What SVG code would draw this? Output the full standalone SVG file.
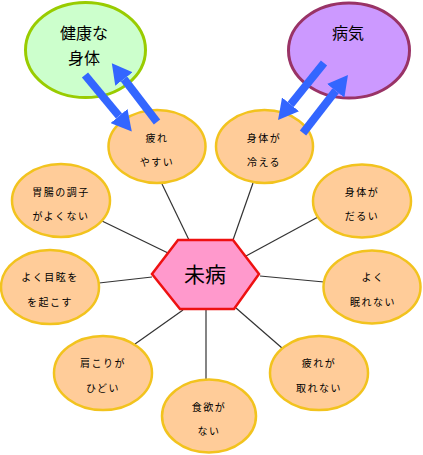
<svg xmlns="http://www.w3.org/2000/svg" width="423" height="455" viewBox="0 0 423 455">
<style>
.o{fill:#FFCC99;stroke:#F2C31E;stroke-width:2.5}
.s{font-family:"Noto Sans CJK JP","Noto Sans",sans-serif;font-size:10px;letter-spacing:1.5px;fill:#000;text-anchor:middle}
.b{font-family:"Noto Sans CJK JP","Noto Sans",sans-serif;font-size:16px;fill:#000;text-anchor:middle}
.c line{stroke:#333;stroke-width:1.2}
.a path{stroke:#3366FF;stroke-width:8;fill:none;marker-end:url(#ah)}
</style>
<defs>
<marker id="ah" markerUnits="userSpaceOnUse" markerWidth="20" markerHeight="22" viewBox="0 0 20 22" refX="0" refY="11" orient="auto">
<path d="M0,0 L20,11 L0,22 z" fill="#3366FF"/>
</marker>
</defs>
<g class="c">
<line x1="162" y1="184" x2="189" y2="240"/>
<line x1="253" y1="183" x2="233" y2="240"/>
<line x1="102" y1="221" x2="168" y2="253"/>
<line x1="99" y1="283" x2="152" y2="277"/>
<line x1="318" y1="217" x2="246" y2="256"/>
<line x1="260" y1="276" x2="324" y2="282"/>
<line x1="135" y1="344" x2="183" y2="310"/>
<line x1="206" y1="309" x2="206" y2="380"/>
<line x1="236" y1="308" x2="282" y2="348"/>
</g>
<g id="kenko">
<ellipse cx="85.5" cy="50" rx="60" ry="47.5" fill="#CCFFCC" stroke="#99CC00" stroke-width="3"/>
<text class="b" x="84" y="39">健康な</text>
<text class="b" x="84" y="64">身体</text>
</g>
<g id="byoki">
<ellipse cx="349" cy="50.5" rx="60.5" ry="47.5" fill="#CC99FF" stroke="#993366" stroke-width="3"/>
<text class="b" x="348" y="39">病気</text>
</g>
<g id="hiro">
<ellipse class="o" cx="157" cy="146.5" rx="48.5" ry="36.5"/>
<text class="s" x="157" y="142">疲れ</text>
<text class="s" x="157" y="166">やすい</text>
</g>
<g id="hie">
<ellipse class="o" cx="264.5" cy="146.5" rx="48.5" ry="36.5"/>
<text class="s" x="264" y="142">身体が</text>
<text class="s" x="264" y="166">冷える</text>
</g>
<g id="ichou">
<ellipse class="o" cx="61" cy="200.5" rx="49" ry="36.5"/>
<text class="s" x="61" y="196">胃腸の調子</text>
<text class="s" x="61" y="220">がよくない</text>
</g>
<g id="memai">
<ellipse class="o" cx="50" cy="287" rx="49" ry="37"/>
<text class="s" x="50" y="281">よく目眩を</text>
<text class="s" x="50" y="306">を起こす</text>
</g>
<g id="katakori">
<ellipse class="o" cx="103" cy="373" rx="49" ry="37"/>
<text class="s" x="103" y="367">肩こりが</text>
<text class="s" x="103" y="392">ひどい</text>
</g>
<g id="shokuyoku">
<ellipse class="o" cx="209" cy="416" rx="47" ry="36.5"/>
<text class="s" x="209" y="411">食欲が</text>
<text class="s" x="209" y="435">ない</text>
</g>
<g id="hirotorenai">
<ellipse class="o" cx="319" cy="373" rx="49" ry="37"/>
<text class="s" x="319" y="367">疲れが</text>
<text class="s" x="319" y="392">取れない</text>
</g>
<g id="nemurenai">
<ellipse class="o" cx="372" cy="287" rx="48.5" ry="36.5"/>
<text class="s" x="373" y="281">よく</text>
<text class="s" x="373" y="306">眠れない</text>
</g>
<g id="darui">
<ellipse class="o" cx="362" cy="201" rx="49" ry="36.5"/>
<text class="s" x="362" y="196">身体が</text>
<text class="s" x="362" y="220">だるい</text>
</g>
<g id="mibyo">
<polygon points="178,240 233,240 259,274 234,309 180,309 152,274" fill="#FF99CC" stroke="#EE1111" stroke-width="2.5"/>
<text x="205" y="282" font-family="'Noto Sans CJK JP',sans-serif" font-size="21" text-anchor="middle" fill="#000">未病</text>
</g>
<g class="a">
<path d="M85,75 L119,116"/>
<path d="M157,122 L124,79"/>
<path d="M324,63 L290.6,104.4"/>
<path d="M303,133 L335.7,90.8"/>
</g>
</svg>
